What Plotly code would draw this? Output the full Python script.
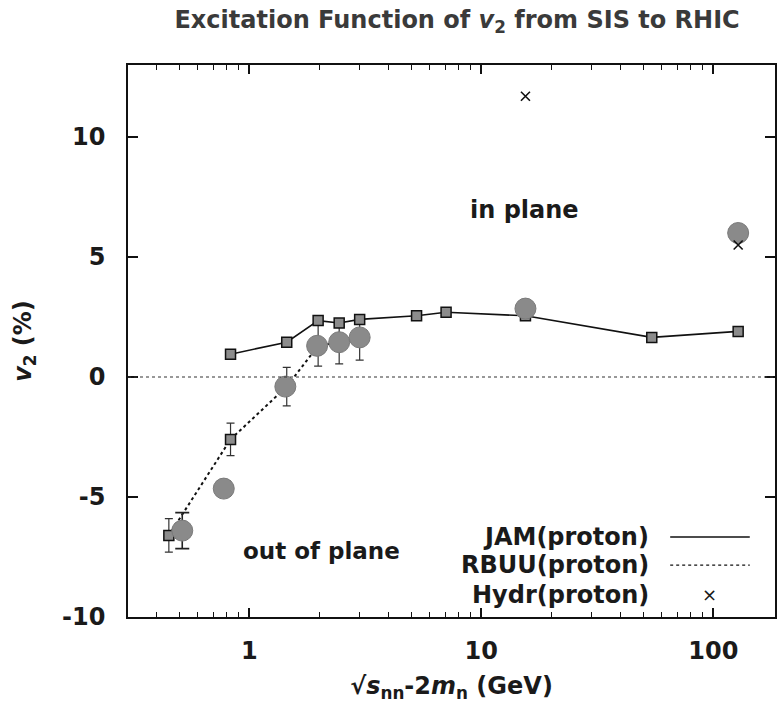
import numpy as np
import plotly.graph_objects as go

# JAM (proton) - solid line
jam_x = [0.83, 1.45, 1.98, 2.44, 2.99, 5.26, 7.05, 15.5, 54.3, 128]
jam_y = [0.95, 1.45, 2.35, 2.25, 2.4, 2.55, 2.7, 2.55, 1.65, 1.9]

# RBUU (proton) - dotted line with error bars
rbuu_x = [0.45, 0.83, 1.45, 1.98, 2.44, 2.99]
rbuu_y = [-6.6, -2.6, -0.4, 1.3, 1.45, 1.6]
rbuu_err = [0.7, 0.68, 0.8, 0.85, 0.9, 0.9]

# Experimental data - gray circles
exp_x = [0.514, 0.776, 1.43, 1.96, 2.44, 2.99, 15.5, 128]
exp_y = [-6.4, -4.65, -0.4, 1.3, 1.45, 1.65, 2.85, 6.0]
exp_err = [0.75, 0.3, 0, 0, 0, 0, 0, 0]

# Hydro (proton) - crosses
hyd_x = [15.5, 128]
hyd_y = [11.7, 5.5]

FONT = "DejaVu Sans"
INK = "#1a1a1a"
FS = 24

fig = go.Figure()

# zero line
fig.add_hline(y=0, line=dict(color="#333333", width=1.2, dash="dot"))

fig.add_trace(go.Scatter(
    x=rbuu_x, y=rbuu_y, mode="lines+markers",
    line=dict(color="#111111", width=2, dash="dot"),
    marker=dict(symbol="square", size=10, color="#8c8c8c",
                line=dict(color="#111111", width=1.5)),
    error_y=dict(type="data", array=rbuu_err, color="#333333",
                 thickness=1.2, width=4),
    showlegend=False))

fig.add_trace(go.Scatter(
    x=jam_x, y=jam_y, mode="lines+markers",
    line=dict(color="#111111", width=1.6),
    marker=dict(symbol="square", size=10, color="#8c8c8c",
                line=dict(color="#111111", width=1.5)),
    showlegend=False))

fig.add_trace(go.Scatter(
    x=exp_x, y=exp_y, mode="markers",
    marker=dict(symbol="circle", size=21, color="#8a8a8a",
                line=dict(color="#7a7a7a", width=1)),
    error_y=dict(type="data", array=exp_err, color="#222222",
                 thickness=1.6, width=7),
    showlegend=False))

fig.add_trace(go.Scatter(
    x=hyd_x, y=hyd_y, mode="markers",
    marker=dict(symbol="x-thin", size=9, color="#111111",
                line=dict(color="#111111", width=1.6)),
    showlegend=False))

# text annotations
fig.add_annotation(x=np.log10(15.3), y=6.95, xref="x", yref="y",
                   text="<b>in plane</b>", showarrow=False,
                   font=dict(family=FONT, size=FS, color=INK))
fig.add_annotation(x=np.log10(2.04), y=-7.25, xref="x", yref="y",
                   text="<b>out of plane</b>", showarrow=False,
                   font=dict(family=FONT, size=FS - 1, color=INK))

# manual legend (text on left, sample on right)
leg_labels = ["JAM(proton)", "RBUU(proton)", "Hydr(proton)"]
leg_y = [0.145, 0.094, 0.040]
for lab, yy in zip(leg_labels, leg_y):
    fig.add_annotation(x=0.809, y=yy, xref="paper", yref="paper",
                       text="<b>" + lab + "</b>", showarrow=False,
                       xanchor="right", yanchor="middle",
                       font=dict(family=FONT, size=FS, color=INK))
fig.add_shape(type="line", xref="paper", yref="paper",
              x0=0.838, x1=0.961, y0=leg_y[0], y1=leg_y[0],
              line=dict(color="#111111", width=1.6))
fig.add_shape(type="line", xref="paper", yref="paper",
              x0=0.838, x1=0.961, y0=leg_y[1], y1=leg_y[1],
              line=dict(color="#111111", width=1.2, dash="dot"))
fig.add_annotation(x=0.898, y=leg_y[2], xref="paper", yref="paper",
                   text="×", showarrow=False, xanchor="center", yanchor="middle",
                   font=dict(family=FONT, size=18, color=INK))

fig.update_layout(
    width=780, height=711,
    margin=dict(l=128, r=3, t=65, b=94),
    paper_bgcolor="white", plot_bgcolor="white",
    title=dict(text="<b>Excitation Function of <i>v</i><sub>2</sub> from SIS to RHIC</b>",
               x=0.586, xanchor="center", y=0.972, yanchor="middle",
               font=dict(family=FONT, size=FS, color="#3a3a3a")),
    font=dict(family=FONT, color=INK),
)

fig.update_xaxes(
    type="log", range=[np.log10(0.3), 2.266],
    showgrid=False, zeroline=False,
    showline=True, linecolor="#111111", linewidth=1.5, mirror="ticks",
    ticks="inside", ticklen=9, tickwidth=1.5, tickcolor="#111111",
    tickvals=[1, 10, 100], ticktext=["<b>1</b>", "<b>10</b>", "<b>100</b>"],
    tickfont=dict(family=FONT, size=FS, color=INK),
    ticklabelstandoff=11,
    minor=dict(ticks="inside", ticklen=5, tickwidth=1.2, tickcolor="#111111",
               tickvals=[0.3, 0.4, 0.5, 0.6, 0.7, 0.8, 0.9, 2, 3, 4, 5, 6, 7, 8, 9,
                         20, 30, 40, 50, 60, 70, 80, 90]),
    title=dict(text="<b>√<i>s</i><sub>nn</sub>-2<i>m</i><sub>n</sub> (GeV)</b>",
               font=dict(family=FONT, size=FS, color=INK), standoff=14),
)

fig.update_yaxes(
    range=[-10, 13],
    showgrid=False, zeroline=False,
    showline=True, linecolor="#111111", linewidth=1.5, mirror="ticks",
    ticks="inside", ticklen=10, tickwidth=1.5, tickcolor="#111111",
    tickvals=[-10, -5, 0, 5, 10],
    ticktext=["<b>-10</b>", "<b>-5</b>", "<b>0</b>", "<b>5</b>", "<b>10</b>"],
    tickfont=dict(family=FONT, size=FS, color=INK),
    ticklabelstandoff=16,
    title=dict(text="<b><i>v</i><sub>2</sub> (%)</b>",
               font=dict(family=FONT, size=FS, color=INK), standoff=24),
)

fig.write_html("out.html")
